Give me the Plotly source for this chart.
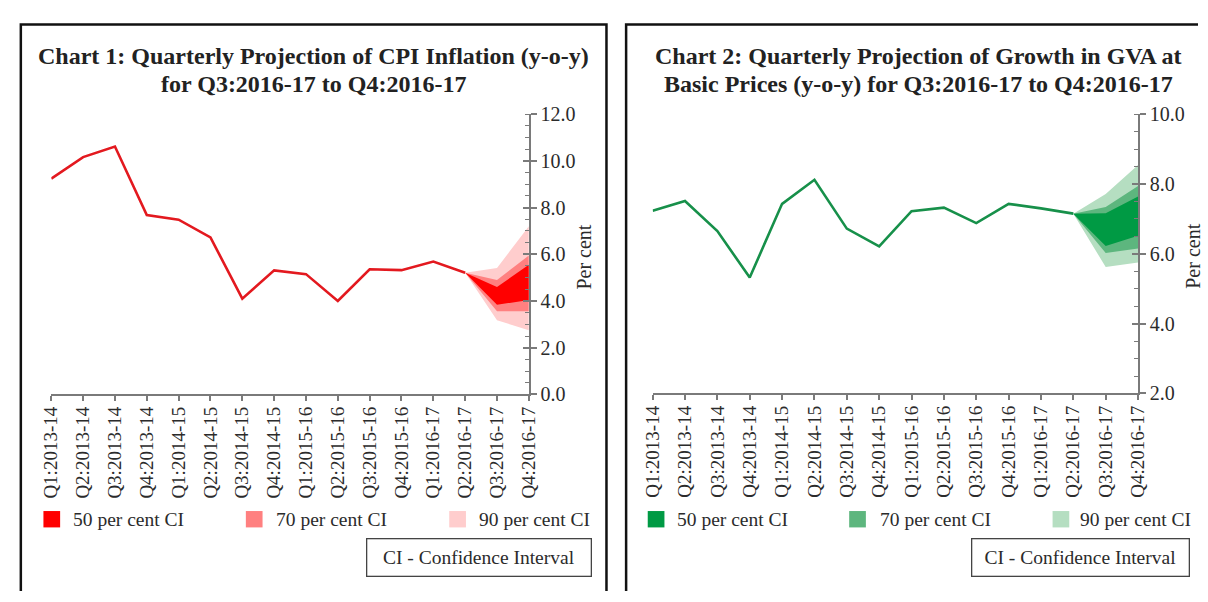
import plotly.graph_objects as go

W, H = 1208, 602

# ---------------- data ----------------
categories = ["Q1:2013-14", "Q2:2013-14", "Q3:2013-14", "Q4:2013-14",
              "Q1:2014-15", "Q2:2014-15", "Q3:2014-15", "Q4:2014-15",
              "Q1:2015-16", "Q2:2015-16", "Q3:2015-16", "Q4:2015-16",
              "Q1:2016-17", "Q2:2016-17", "Q3:2016-17", "Q4:2016-17"]

# actual values Q1:2013-14 .. Q2:2016-17
cpi_actual = [9.24, 10.16, 10.61, 7.68, 7.48, 6.72, 4.10, 5.31,
              5.15, 4.00, 5.36, 5.32, 5.69, 5.21]
gva_actual = [7.23, 7.51, 6.65, 5.32, 7.43, 8.12, 6.72, 6.21,
              7.22, 7.32, 6.88, 7.43, 7.30, 7.15]

# projection bands for Q3:2016-17 and Q4:2016-17
cpi_u90 = [5.41, 7.20]
cpi_u70 = [4.90, 5.95]
cpi_u50 = [4.60, 5.55]
cpi_l50 = [3.84, 4.04]
cpi_l70 = [3.56, 3.56]
cpi_l90 = [3.18, 2.75]

gva_u90 = [7.71, 8.54]
gva_u70 = [7.34, 7.94]
gva_u50 = [7.16, 7.64]
gva_l50 = [6.22, 6.52]
gva_l70 = [6.02, 6.15]
gva_l90 = [5.62, 5.75]

ci_labels = ["50 per cent CI", "70 per cent CI", "90 per cent CI"]
titles1 = ["Chart 1: Quarterly Projection of CPI Inflation (y-o-y)",
           "for Q3:2016-17 to Q4:2016-17"]
titles2 = ["Chart 2: Quarterly Projection of Growth in GVA at",
           "Basic Prices (y-o-y) for Q3:2016-17 to Q4:2016-17"]

# ---------------- style ----------------
FONT = "Liberation Serif"
AXC = "#7a7a7a"
TXT = "#2b2b2b"
red_line = "#E3191F"
red_fans = ["#FF0000", "#FF8080", "#FFCDCD"]
green_line = "#17904A"
green_fans = ["#009A44", "#5DB67E", "#B5DEC1"]


def px_x(x):
    return x / W


def px_y(y):
    return (H - y) / H


fig = go.Figure()

n_act = len(cpi_actual)
idx_act = list(range(n_act))
idx_proj = [n_act - 1, n_act, n_act + 1]


def add_fan(xa, ya, last, uppers, lowers, colors):
    # draw 90, 70, 50 (widest first)
    for (up, lo), col in reversed(list(zip(zip(uppers, lowers), colors))):
        ys = [last] + up + lo[::-1] + [last]
        xs = [idx_proj[0], idx_proj[1], idx_proj[2], idx_proj[2], idx_proj[1], idx_proj[0]]
        fig.add_trace(go.Scatter(x=xs, y=ys, mode="lines", fill="toself",
                                 fillcolor=col, line=dict(width=0, color=col),
                                 xaxis=xa, yaxis=ya, showlegend=False,
                                 hoverinfo="skip"))


add_fan("x", "y", cpi_actual[-1],
        [cpi_u50, cpi_u70, cpi_u90], [cpi_l50, cpi_l70, cpi_l90], red_fans)
fig.add_trace(go.Scatter(x=idx_act, y=cpi_actual, mode="lines",
                         line=dict(color=red_line, width=2.6),
                         xaxis="x", yaxis="y", showlegend=False))

add_fan("x2", "y2", gva_actual[-1],
        [gva_u50, gva_u70, gva_u90], [gva_l50, gva_l70, gva_l90], green_fans)
fig.add_trace(go.Scatter(x=idx_act, y=gva_actual, mode="lines",
                         line=dict(color=green_line, width=2.6),
                         xaxis="x2", yaxis="y2", showlegend=False))

# invisible traces for overlay axes
fig.add_trace(go.Scatter(x=[0], y=[None], xaxis="x", yaxis="y3", showlegend=False, hoverinfo="skip"))
fig.add_trace(go.Scatter(x=[0], y=[None], xaxis="x2", yaxis="y4", showlegend=False, hoverinfo="skip"))

xtickfont = dict(family=FONT, size=19, color=TXT)
ytickfont = dict(family=FONT, size=20, color=TXT)

xcommon = dict(range=[0, len(categories) - 1], tickmode="array",
               tickvals=list(range(len(categories))), ticktext=categories,
               tickangle=-90, tickfont=xtickfont, showline=True, linecolor=AXC,
               linewidth=1.5, ticks="outside", ticklen=5, tickwidth=1.5,
               tickcolor=AXC, ticklabelstandoff=-2,
               showgrid=False, zeroline=False, fixedrange=True)


def ycommon(rng, dom, anchor):
    return dict(range=rng, domain=dom, anchor=anchor, side="right",
                showline=True, linecolor=AXC, linewidth=1.5,
                ticks="outside", ticklen=6, tickwidth=1.5, tickcolor=AXC,
                ticklabelstandoff=0,
                tick0=0, dtick=2, tickformat=".1f", tickfont=ytickfont,
                showgrid=False, zeroline=False, fixedrange=True,
                minor=dict(ticks="inside", dtick=0.5, ticklen=4,
                           tickwidth=1, tickcolor=AXC))


def yover(rng, over, anchor):
    return dict(range=rng, overlaying=over, anchor=anchor, side="right",
                showline=False, ticks="inside", ticklen=6, tickwidth=1.5,
                tickcolor=AXC, tick0=0, dtick=2, showticklabels=False,
                showgrid=False, zeroline=False, fixedrange=True)


fig.update_layout(
    width=W, height=H,
    margin=dict(l=0, r=0, t=0, b=0),
    paper_bgcolor="white", plot_bgcolor="white",
    hovermode=False,
    xaxis=dict(domain=[px_x(41), px_x(527)], anchor="y", **xcommon),
    yaxis=ycommon([0, 12], [px_y(398), px_y(107)], "x"),
    xaxis2=dict(domain=[px_x(653), px_x(1147)], anchor="y2", **xcommon),
    yaxis2=ycommon([2, 10], [px_y(397), px_y(107)], "x2"),
    yaxis3=yover([0, 12], "y", "x"),
    yaxis4=yover([2, 10], "y2", "x2"),
)

shapes = []
annotations = []

# panel borders (open paths, kept inside the canvas)
p1 = "M {:.5f},{:.5f} L {:.5f},{:.5f} L {:.5f},{:.5f} L {:.5f},{:.5f}".format(
    px_x(10), 0.0, px_x(10), px_y(14), px_x(606), px_y(14), px_x(606), 0.0)
p2 = "M {:.5f},{:.5f} L {:.5f},{:.5f} L {:.5f},{:.5f}".format(
    px_x(626), 0.0, px_x(626), px_y(14), 1.0, px_y(14))
for p in (p1, p2):
    shapes.append(dict(type="path", xref="paper", yref="paper", path=p,
                       line=dict(color="#111111", width=2.5), layer="below"))

# titles
for cx, tl in [(308, titles1), (924, titles2)]:
    for i, t in enumerate(tl):
        annotations.append(dict(text="<b>" + t + "</b>", xref="paper", yref="paper",
                                x=px_x(cx), y=px_y(47 + 29 * i), xanchor="center",
                                yanchor="middle", showarrow=False,
                                font=dict(family=FONT, size=24, color="#222222")))

# axis titles
for cx in [583, 1203]:
    annotations.append(dict(text="Per cent", xref="paper", yref="paper",
                            x=px_x(cx), y=px_y(255), xanchor="center",
                            yanchor="middle", textangle=-90, showarrow=False,
                            font=dict(family=FONT, size=20, color=TXT)))

# legends
leg = [((33, 239, 446), (61, 268, 474), red_fans),
       ((648, 853, 1060), (676, 882, 1086), green_fans)]
for sqx, txx, cols in leg:
    for sx, tx, col, lab in zip(sqx, txx, cols, ci_labels):
        shapes.append(dict(type="rect", xref="paper", yref="paper",
                           x0=px_x(sx), x1=px_x(sx + 17),
                           y0=px_y(536), y1=px_y(519),
                           line=dict(width=0), fillcolor=col))
        annotations.append(dict(text=lab, xref="paper", yref="paper",
                                x=px_x(tx), y=px_y(528), xanchor="left",
                                yanchor="middle", showarrow=False,
                                font=dict(family=FONT, size=19.5, color=TXT)))

# CI boxes
for cx, wbox in [(476.5, 221), (1088, 214)]:
    annotations.append(dict(text="CI - Confidence Interval", xref="paper", yref="paper",
                            x=px_x(cx), y=px_y(567), xanchor="center",
                            yanchor="middle", showarrow=False,
                            width=wbox, height=34, borderpad=1,
                            bordercolor="#444444", borderwidth=1.3,
                            font=dict(family=FONT, size=19.5, color=TXT)))

fig.update_layout(shapes=shapes, annotations=annotations)

fig.write_html("out.html", config={"displayModeBar": False},
               post_script="document.documentElement.style.margin='0';"
                           "document.body.style.margin='0';"
                           "document.body.style.overflow='hidden';")
